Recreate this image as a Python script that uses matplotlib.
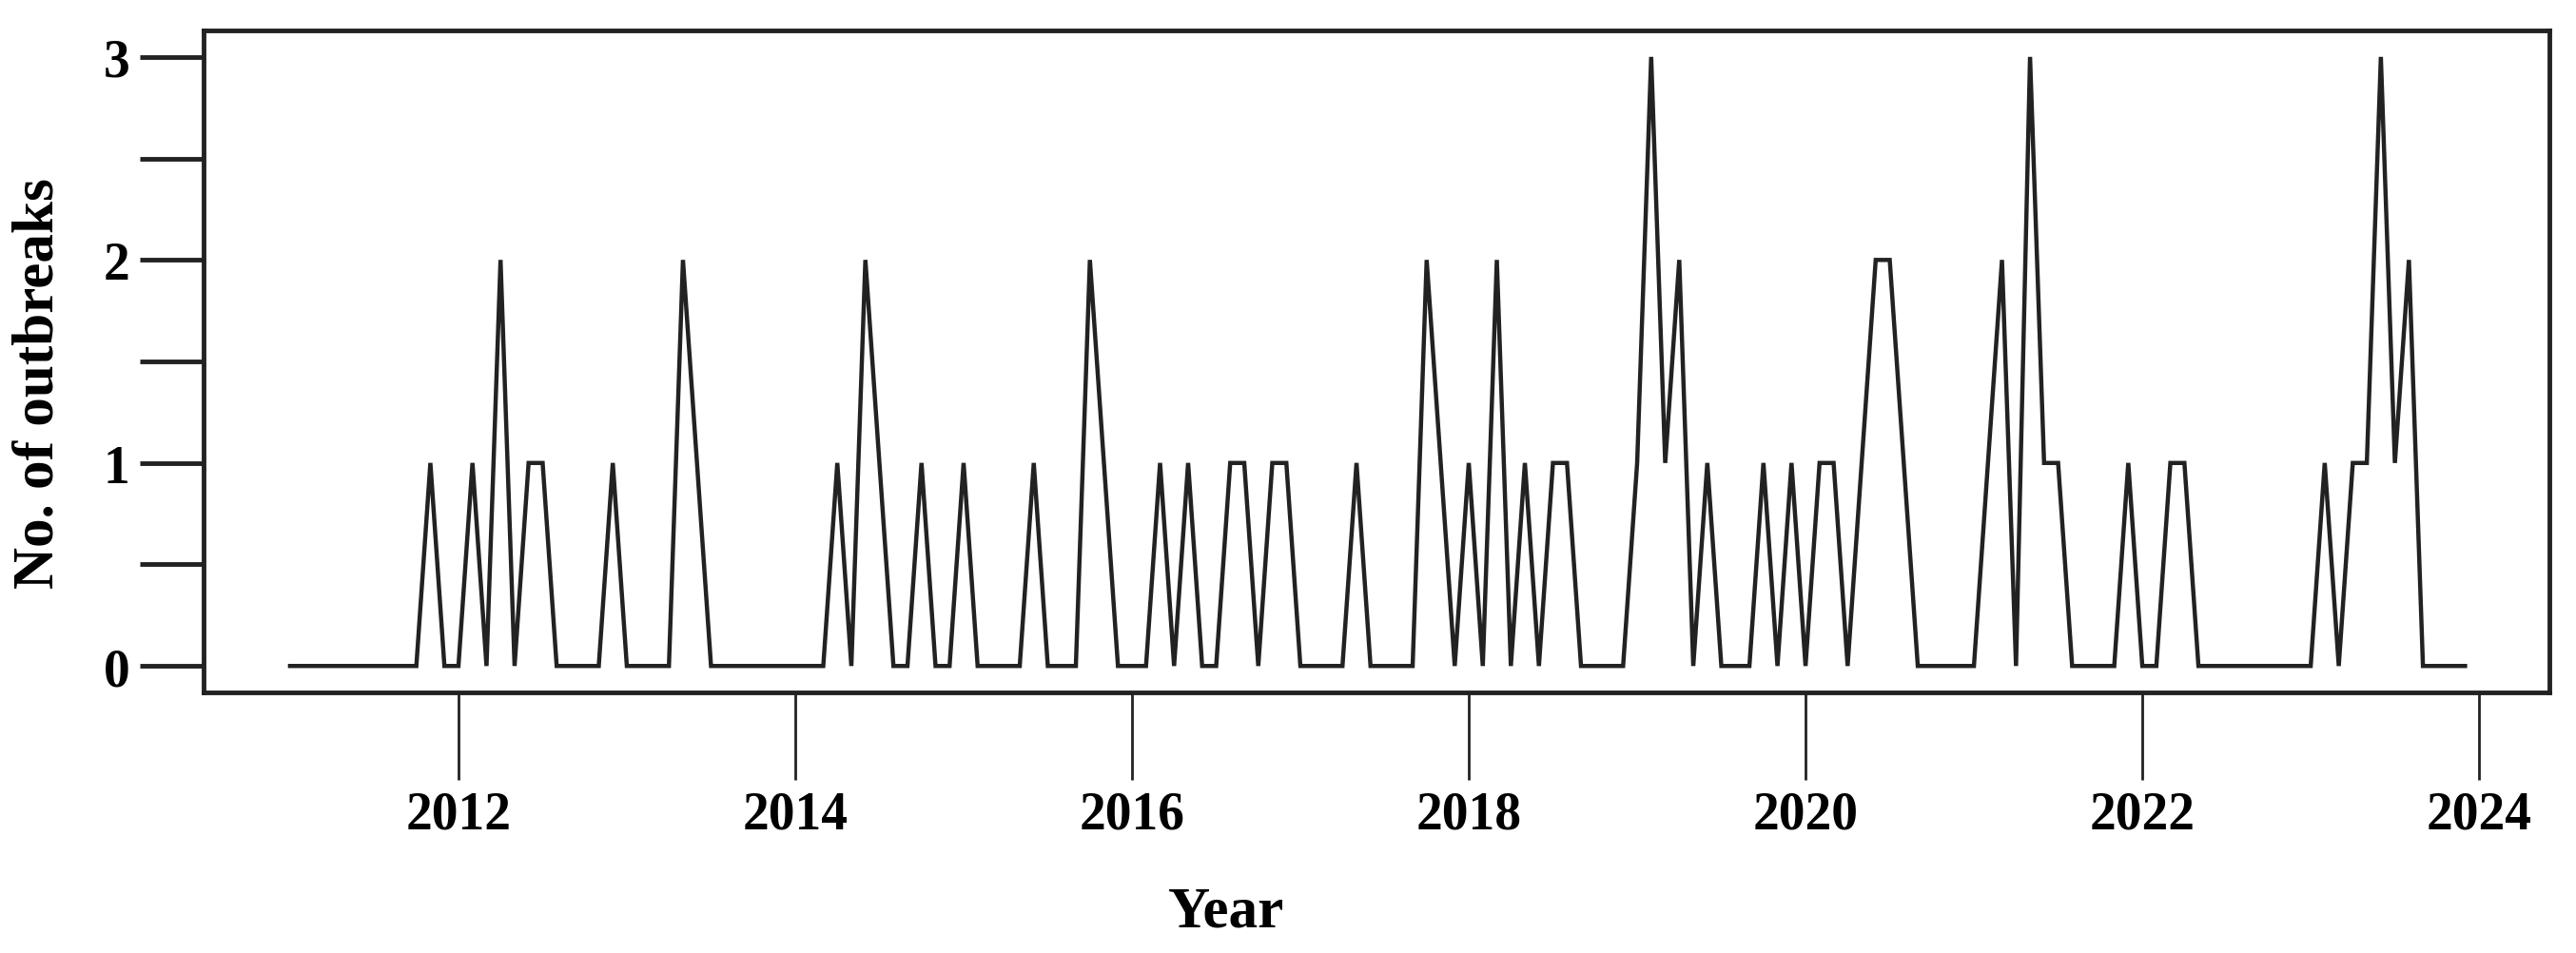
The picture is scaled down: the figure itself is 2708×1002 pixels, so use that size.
import numpy as np
import matplotlib
matplotlib.use('Agg')
import matplotlib.pyplot as plt
from matplotlib.ticker import MultipleLocator

# monthly number of outbreaks, Jan..Dec of each year
years = list(range(2011, 2024))
outbreaks = [
    0, 0, 0, 0, 0, 0, 0, 0, 0, 0, 1, 0,   # 2011
    0, 1, 0, 2, 0, 1, 1, 0, 0, 0, 0, 1,   # 2012
    0, 0, 0, 0, 2, 1, 0, 0, 0, 0, 0, 0,   # 2013
    0, 0, 0, 1, 0, 2, 1, 0, 0, 1, 0, 0,   # 2014
    1, 0, 0, 0, 0, 1, 0, 0, 0, 2, 1, 0,   # 2015
    0, 0, 1, 0, 1, 0, 0, 1, 1, 0, 1, 1,   # 2016
    0, 0, 0, 0, 1, 0, 0, 0, 0, 2, 1, 0,   # 2017
    1, 0, 2, 0, 1, 0, 1, 1, 0, 0, 0, 0,   # 2018
    1, 3, 1, 2, 0, 1, 0, 0, 0, 1, 0, 1,   # 2019
    0, 1, 1, 0, 1, 2, 2, 1, 0, 0, 0, 0,   # 2020
    0, 1, 2, 0, 3, 1, 1, 0, 0, 0, 0, 1,   # 2021
    0, 0, 1, 1, 0, 0, 0, 0, 0, 0, 0, 0,   # 2022
    0, 1, 0, 1, 1, 3, 1, 2, 0, 0, 0, 0,   # 2023
]
x_ticks = [2012, 2014, 2016, 2018, 2020, 2022, 2024]
y_ticks = [0, 1, 2, 3]

font = 'Liberation Serif'

time = np.array([y + m / 12.0 for y in years for m in range(12)])
counts = np.array(outbreaks)

fig = plt.figure(figsize=(27.08, 10.03), dpi=100)
ax = fig.add_axes([0.079, 0.273, 0.9107, 0.694])

ax.plot(time, counts, color='#222222', linewidth=3.2, solid_joinstyle='miter')

ax.set_xlim(2010.486, 2024.418)
ax.set_ylim(-0.131, 3.13)

ax.set_xticks(x_ticks)
ax.set_xticklabels([str(t) for t in x_ticks])
ax.set_yticks(y_ticks)
ax.set_yticklabels([str(t) for t in y_ticks])
ax.yaxis.set_minor_locator(MultipleLocator(0.5))

for spine in ax.spines.values():
    spine.set_linewidth(3.5)
    spine.set_color('#222222')

ax.tick_params(axis='x', direction='out', length=66, width=2, pad=8,
               labelsize=40, color='#222222')
ax.tick_params(axis='y', which='both', direction='out', length=48, width=3.5,
               pad=8, labelsize=40, color='#222222')
for lab in ax.get_xticklabels() + ax.get_yticklabels():
    lab.set_fontfamily(font)
    lab.set_fontweight('bold')

fig.text(0.476, 0.043, 'Year', ha='center', va='center', fontsize=44,
         fontfamily=font, fontweight='bold')
fig.text(0.015, 0.598, 'No. of outbreaks', ha='center', va='center',
         rotation=90, fontsize=44, fontfamily=font, fontweight='bold')

fig.savefig('out.png', dpi=100)
